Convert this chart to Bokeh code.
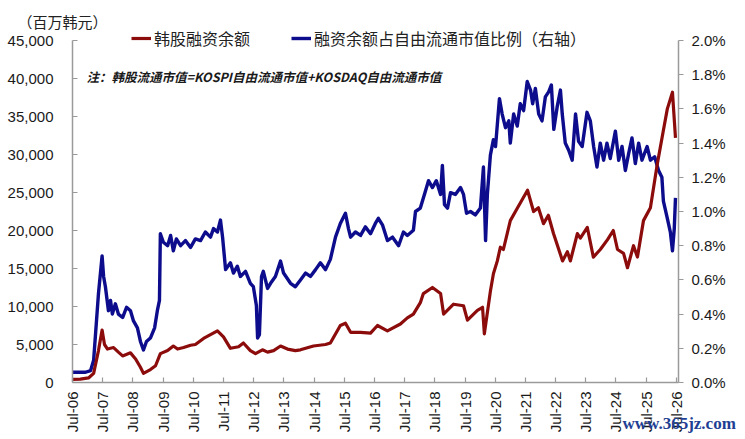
import math
from bokeh.plotting import figure
from bokeh.models import (Range1d, LinearAxis, FixedTicker, PrintfTickFormatter,
                          NumeralTickFormatter, Legend, LegendItem, Label, ColumnDataSource)
from bokeh.embed import file_html
from bokeh.resources import INLINE

# ---------------- data ----------------
# 韩股融资余额 (百万韩元), dates as decimal years
red_dates = [2006.50, 2006.76, 2007.03, 2007.20, 2007.36, 2007.48, 2007.56, 2007.66, 2007.86, 2008.02,
             2008.16, 2008.42, 2008.59, 2008.75, 2008.85, 2009.08, 2009.25, 2009.41, 2009.65, 2009.84,
             2009.98, 2010.18, 2010.41, 2010.57, 2010.84, 2011.07, 2011.30, 2011.50, 2011.73, 2012.00,
             2012.16, 2012.39, 2012.56, 2012.79, 2012.96, 2013.16, 2013.39, 2013.62, 2013.88, 2014.05,
             2014.48, 2014.88, 2015.04, 2015.37, 2015.54, 2015.71, 2016.04, 2016.37, 2016.60, 2016.93,
             2017.36, 2017.59, 2017.79, 2018.02, 2018.12, 2018.42, 2018.69, 2018.79, 2019.12, 2019.45,
             2019.58, 2019.91, 2020.08, 2020.14, 2020.34, 2020.44, 2020.57, 2020.67, 2020.77, 2021.00,
             2021.24, 2021.57, 2021.77, 2021.93, 2022.10, 2022.26, 2022.43, 2022.73, 2022.89, 2022.99,
             2023.22, 2023.32, 2023.55, 2023.75, 2023.98, 2024.22, 2024.41, 2024.55, 2024.75, 2024.88,
             2025.08, 2025.21, 2025.41, 2025.64, 2025.87, 2026.07, 2026.20, 2026.37, 2026.47]
red_values = [400, 450, 600, 1200, 4200, 6900, 5000, 4400, 4600, 4000,
              3500, 3900, 3100, 2000, 1200, 1700, 2200, 3800, 4200, 4800,
              4400, 4600, 4900, 5000, 5800, 6300, 6800, 6000, 4500, 4700,
              5200, 4200, 3800, 4300, 4000, 4200, 4800, 4400, 4200, 4300,
              4800, 5000, 5200, 7500, 7800, 6600, 6600, 6500, 7500, 6800,
              7700, 8500, 9000, 10500, 11700, 12500, 11700, 9000, 10300, 10100,
              8200, 9500, 9900, 6400, 12000, 14300, 16000, 17800, 17500, 21300,
              23000, 25300, 22500, 23000, 20900, 22000, 19600, 16000, 17200, 16000,
              19600, 19000, 20400, 16500, 17500, 18800, 20000, 17500, 17000, 15100,
              18000, 16500, 21300, 23000, 28800, 33200, 36000, 38200, 32200]

# 融资余额占自由流通市值比例 (%), right axis
blue_dates = [2006.50, 2006.93, 2007.10, 2007.20, 2007.36, 2007.48, 2007.53, 2007.59, 2007.69, 2007.76,
              2007.82, 2007.92, 2008.02, 2008.16, 2008.29, 2008.42, 2008.52, 2008.65, 2008.75, 2008.85,
              2008.95, 2009.08, 2009.22, 2009.31, 2009.38, 2009.41, 2009.51, 2009.65, 2009.75, 2009.84,
              2009.94, 2010.08, 2010.24, 2010.41, 2010.57, 2010.74, 2010.90, 2011.07, 2011.17, 2011.30,
              2011.40, 2011.47, 2011.57, 2011.73, 2011.83, 2011.96, 2012.06, 2012.23, 2012.39, 2012.49,
              2012.59, 2012.63, 2012.69, 2012.76, 2012.82, 2012.96, 2013.06, 2013.22, 2013.39, 2013.49,
              2013.72, 2013.88, 2014.05, 2014.22, 2014.38, 2014.55, 2014.71, 2014.88, 2015.04, 2015.21,
              2015.37, 2015.54, 2015.64, 2015.71, 2015.87, 2016.04, 2016.20, 2016.37, 2016.53, 2016.63,
              2016.77, 2016.93, 2017.10, 2017.30, 2017.46, 2017.59, 2017.79, 2017.86, 2018.02, 2018.19,
              2018.29, 2018.42, 2018.55, 2018.69, 2018.75, 2018.82, 2018.92, 2019.02, 2019.18, 2019.35,
              2019.45, 2019.55, 2019.68, 2019.84, 2020.01, 2020.11, 2020.18, 2020.24, 2020.34, 2020.44,
              2020.51, 2020.64, 2020.73, 2020.84, 2020.95, 2021.00, 2021.11, 2021.23, 2021.33, 2021.44,
              2021.56, 2021.67, 2021.74, 2021.83, 2021.94, 2022.05, 2022.16, 2022.27, 2022.36, 2022.44,
              2022.55, 2022.66, 2022.72, 2022.82, 2022.93, 2023.05, 2023.16, 2023.26, 2023.38, 2023.54,
              2023.65, 2023.76, 2023.87, 2023.98, 2024.09, 2024.20, 2024.31, 2024.48, 2024.59, 2024.70,
              2024.81, 2024.92, 2025.03, 2025.14, 2025.25, 2025.36, 2025.53, 2025.64, 2025.78, 2025.91,
              2026.02, 2026.07, 2026.20, 2026.30, 2026.37, 2026.43, 2026.47]
blue_values = [0.06, 0.06, 0.07, 0.13, 0.52, 0.74, 0.62, 0.56, 0.42, 0.48,
               0.40, 0.46, 0.40, 0.38, 0.44, 0.42, 0.36, 0.32, 0.24, 0.19,
               0.24, 0.26, 0.32, 0.42, 0.48, 0.87, 0.82, 0.80, 0.86, 0.77,
               0.84, 0.80, 0.83, 0.79, 0.84, 0.83, 0.88, 0.85, 0.90, 0.88,
               0.95, 0.85, 0.66, 0.70, 0.64, 0.68, 0.62, 0.65, 0.58, 0.56,
               0.45, 0.26, 0.28, 0.62, 0.65, 0.55, 0.58, 0.62, 0.71, 0.64,
               0.58, 0.56, 0.60, 0.64, 0.62, 0.66, 0.70, 0.66, 0.72, 0.85,
               0.93, 0.99, 0.90, 0.85, 0.88, 0.86, 0.91, 0.87, 0.93, 0.96,
               0.92, 0.83, 0.85, 0.80, 0.88, 0.86, 0.89, 1.00, 1.02, 1.12,
               1.18, 1.14, 1.18, 1.10, 1.27, 1.04, 1.02, 1.11, 1.10, 1.14,
               1.10, 0.99, 1.00, 0.98, 1.02, 1.26, 0.83, 1.10, 1.33, 1.42,
               1.38, 1.66, 1.57, 1.49, 1.53, 1.40, 1.57, 1.50, 1.63, 1.59,
               1.76, 1.71, 1.63, 1.72, 1.57, 1.53, 1.67, 1.70, 1.74, 1.48,
               1.61, 1.71, 1.57, 1.40, 1.36, 1.30, 1.57, 1.41, 1.38, 1.58,
               1.53, 1.38, 1.26, 1.40, 1.30, 1.40, 1.31, 1.47, 1.30, 1.38,
               1.24, 1.34, 1.43, 1.28, 1.40, 1.30, 1.38, 1.30, 1.32, 1.24,
               1.20, 1.06, 0.96, 0.88, 0.77, 0.90, 1.08]

tick_years = [2006.5 + k for k in range(21)]
tick_labels = ["Jul-%02d" % (6 + k) for k in range(21)]
left_ticks = [0, 5000, 10000, 15000, 20000, 25000, 30000, 35000, 40000, 45000]
right_ticks = [0.0, 0.2, 0.4, 0.6, 0.8, 1.0, 1.2, 1.4, 1.6, 1.8, 2.0]

RED = "#8c0c0c"
BLUE = "#0c0c8c"
AXIS = "#9a9a9a"
LATIN = "Liberation Sans"
CJK = "Noto Sans CJK SC"

# ---------------- layout (pixels within the canvas) ----------------
W, H = 745, 439
AX_L, AX_R = 72, 678      # left / right axis lines
AX_T, AX_B = 40, 382      # top of value axes / x-axis line
X0, X1 = 2006.5, 2026.57
Y1L, Y1R = 45000.0, 2.0

def ext(lo, hi, p_lo, p_hi, total):
    per = (hi - lo) / (p_hi - p_lo)
    return lo - p_lo * per, hi + (total - p_hi) * per

xs, xe = ext(X0, X1, AX_L, AX_R, W)
# vertical: pixel measured from bottom of canvas
ys, ye = ext(0.0, Y1L, H - AX_B, H - AX_T, H)
rs, re_ = ext(0.0, Y1R, H - AX_B, H - AX_T, H)

p = figure(width=W, height=H, x_range=Range1d(xs, xe), y_range=Range1d(ys, ye),
           output_backend="svg", toolbar_location=None, min_border=0,
           x_axis_location=None, y_axis_location=None)
p.extra_y_ranges = {"pct": Range1d(rs, re_)}
p.grid.visible = False
p.outline_line_color = None
p.background_fill_color = "white"
p.border_fill_color = "white"

blue_src = ColumnDataSource(dict(x=blue_dates, y=blue_values))
red_src = ColumnDataSource(dict(x=red_dates, y=red_values))
rb = p.line("x", "y", source=blue_src, y_range_name="pct", line_color=BLUE, line_width=3.4,
            line_join="round")
rr = p.line("x", "y", source=red_src, line_color=RED, line_width=3.2, line_join="round")

xa = LinearAxis(ticker=FixedTicker(ticks=tick_years), fixed_location=0, bounds=(X0, X1))
xa.major_label_overrides = {t: l for t, l in zip(tick_years, tick_labels)}
xa.major_label_orientation = math.pi / 2
xa.major_tick_in = 5
xa.major_tick_out = 0
xa.major_label_standoff = 9
p.add_layout(xa, "below")

ya = LinearAxis(ticker=FixedTicker(ticks=left_ticks), formatter=NumeralTickFormatter(format="0,0"),
                fixed_location=X0, bounds=(0, Y1L))
ya.major_tick_in = 5
ya.major_tick_out = 0
ya.major_label_standoff = 19
p.add_layout(ya, "left")

ra = LinearAxis(y_range_name="pct", ticker=FixedTicker(ticks=right_ticks),
                formatter=PrintfTickFormatter(format="%.1f%%"), fixed_location=X1, bounds=(0, Y1R))
ra.major_tick_in = 0
ra.major_tick_out = 5
ra.major_label_standoff = 8
p.add_layout(ra, "right")

for ax in [xa, ya, ra]:
    ax.minor_tick_line_color = None
    ax.axis_line_color = AXIS
    ax.major_tick_line_color = AXIS
    ax.axis_line_width = 1.5
    ax.major_tick_line_width = 1.2
    ax.major_label_text_font = LATIN
    ax.major_label_text_font_size = "15px"
    ax.major_label_text_color = "#1a1a1a"

legend = Legend(items=[LegendItem(label="韩股融资余额", renderers=[rr]),
                       LegendItem(label="融资余额占自由流通市值比例（右轴）", renderers=[rb])],
                orientation="horizontal", location=(131, 389),
                label_text_font=CJK, label_text_font_size="16px", label_text_color="#222222",
                glyph_width=20, glyph_height=18, label_standoff=3, spacing=41,
                padding=0, margin=0, border_line_color=None, background_fill_alpha=0)
p.add_layout(legend, "center")

p.add_layout(Label(x=17, y=418, x_units="screen", y_units="screen", text="（百万韩元）",
                   text_font=CJK, text_font_size="15px", text_color="#222222",
                   text_baseline="middle"))
p.add_layout(Label(x=86, y=363, x_units="screen", y_units="screen",
                   text="注：韩股流通市值=KOSPI自由流通市值+KOSDAQ自由流通市值",
                   text_font=CJK, text_font_size="12.5px", text_font_style="bold italic",
                   text_color="#1a1a1a", text_baseline="middle"))
p.add_layout(Label(x=622, y=16, x_units="screen", y_units="screen", text="www.365jz.com",
                   text_font="Liberation Serif", text_font_size="17px", text_font_style="bold",
                   text_color="#1f3f94", text_baseline="middle"))

open("out.html", "w").write(file_html(p, INLINE))
